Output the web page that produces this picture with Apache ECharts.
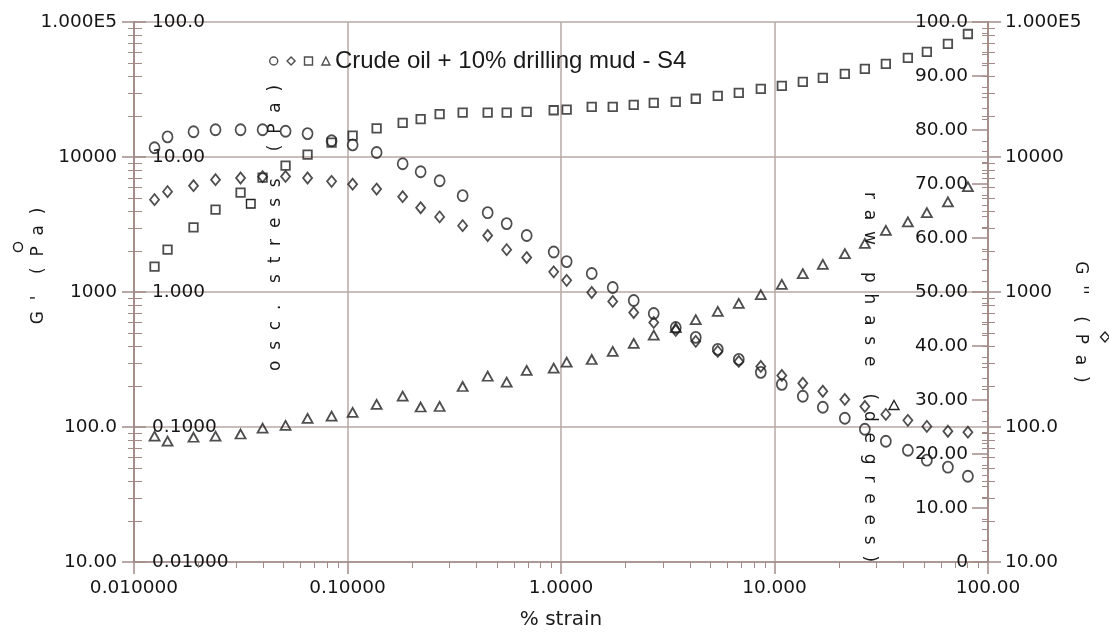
<!DOCTYPE html>
<html><head><meta charset="utf-8">
<script src="https://cdn.jsdelivr.net/npm/echarts@6/dist/echarts.min.js"></script>
<style>html,body{margin:0;padding:0;background:#fff}#c{width:1109px;height:635px}</style>
</head><body><div id="c"></div>
<script>
// ---- data ----
const strain = [0.01248,0.01436,0.01900,0.02409,0.03156,0.04002,0.05128,0.06501,0.08423,0.1057,0.1369,0.1813,0.2201,0.2701,0.3462,0.4535,0.5566,0.6907,0.9243,1.063,1.393,1.747,2.191,2.719,3.447,4.277,5.424,6.803,8.627,10.82,13.57,16.84,21.35,26.50,33.23,42.14,51.72,64.89,80.51];
const gPrime = [11700,14100,15400,15900,15900,15900,15500,14900,13200,12300,10800,8920,7780,6670,5170,3870,3210,2620,1980,1680,1370,1080,865,693,546,461,376,317,254,207,169,140,116,96.2,78.5,67.3,56.8,50.4,43.2];
const gDouble = [4830,5540,6130,6790,6990,7150,7180,6990,6600,6290,5790,5080,4210,3600,3100,2620,2060,1800,1410,1220,992,851,705,595,519,431,363,306,281,241,211,184,160,142,124,112,101,93.0,91.5];
const oscStress = [1.54,2.06,3.01,4.07,5.44,7.03,8.62,10.4,12.8,14.4,16.3,17.9,19.1,20.8,21.3,21.3,21.3,21.6,22.2,22.4,23.5,23.5,24.3,25.2,25.6,27.0,28.4,29.9,32.0,33.6,36.0,38.6,41.3,44.9,48.9,54.2,60.0,68.8,81.5];
const rawPhase = [23.3,22.4,23.1,23.3,23.7,24.8,25.3,26.6,27.0,27.7,29.2,30.7,28.7,28.8,32.5,34.4,33.3,35.5,35.9,37.0,37.5,39.0,40.5,42.0,43.4,44.9,46.4,47.9,49.5,51.4,53.4,55.1,57.1,59.0,61.4,63.0,64.7,66.7,69.5];

const xTickLabels = ['0.010000','0.10000','1.0000','10.000','100.00'];
const gTickLabels = ['10.00','100.0','1000','10000','1.000E5'];
const stressTickLabels = ['0.01000','0.1000','1.000','10.00','100.0'];
const phaseTickLabels = ['0','10.00','20.00','30.00','40.00','50.00','60.00','70.00','80.00','90.00','100.0'];
const legendText = 'Crude oil + 10% drilling mud - S4';
const seriesNames = ["G'", "G''", 'osc. stress', 'raw phase'];

// ---- styling ----
const markColor = '#222222';
const gridColor = '#b8a9a5';
const axisColor = '#a38c88';
const tickFont = 'DejaVu Sans';
const nameFont = '17px "DejaVu Sans"';

function pairs(arr){ return strain.map((s,i)=>[s, arr[i]]); }
function minorLog(lo, hi){ const out=[]; for(let k=lo;k<hi;k++){ for(let m=2;m<=9;m++){ out.push(m*Math.pow(10,k)); } } return out; }
function lg(v){ return Math.round(Math.log10(v)); }

const lblBase = {fontFamily: tickFont, fontSize: 18.5, color: '#151515', showMinLabel: true, showMaxLabel: true};
const lineSt = {color: axisColor, width: 1.5};

function tickSeries(yIdx, data, fn){
  return {
    type: 'custom', xAxisIndex: 0, yAxisIndex: yIdx, silent: true, clip: false, z: 1,
    data: data,
    renderItem: function(params, api){
      const p = api.coord([api.value(0), api.value(1)]);
      const s = fn(p);
      return {type: 'line', shape: s, style: {stroke: axisColor, lineWidth: 1}};
    }
  };
}

const markerStyle = {color: 'rgba(0,0,0,0)', borderColor: markColor, borderWidth: 1.8};

const option = {
  animation: false,
  backgroundColor: '#fff',
  grid: {left: 134, top: 22, width: 854, height: 541},
  legend: {
    left: 269, top: 49, padding: 0, itemWidth: 8, itemHeight: 8, itemGap: 8,
    selectedMode: false, data: seriesNames,
    itemStyle: {borderWidth: 1.4},
    formatter: n => n === 'raw phase' ? legendText : '',
    textStyle: {fontFamily: 'Liberation Sans', fontSize: 24, color: '#1a1a1a'}
  },
  xAxis: {
    type: 'log', logBase: 10, min: 0.01, max: 100,
    axisLine: {show: true, onZero: false, lineStyle: lineSt},
    axisTick: {show: true, length: 12, lineStyle: lineSt},
    axisLabel: Object.assign({}, lblBase, {margin: 17, formatter: v => xTickLabels[lg(v) + 2]}),
    splitLine: {show: true, lineStyle: {color: gridColor, width: 1.5}},
    name: '% strain', nameLocation: 'middle', nameGap: 48,
    nameTextStyle: {fontFamily: tickFont, fontSize: 20, color: '#1a1a1a'}
  },
  yAxis: [
    {type: 'log', logBase: 10, min: 10, max: 100000, position: 'left',
     axisLine: {show: true, lineStyle: lineSt},
     axisTick: {show: true, length: 12, lineStyle: lineSt},
     axisLabel: Object.assign({}, lblBase, {margin: 17, formatter: v => gTickLabels[lg(v) - 1]}),
     splitLine: {show: true, lineStyle: {color: gridColor, width: 1.5}}},
    {type: 'log', logBase: 10, min: 0.01, max: 100, position: 'left', offset: 0,
     axisLine: {show: true, lineStyle: lineSt},
     axisTick: {show: true, inside: true, length: 12, lineStyle: lineSt},
     axisLabel: Object.assign({}, lblBase, {inside: true, margin: 18, formatter: v => stressTickLabels[lg(v) + 2]}),
     splitLine: {show: false}},
    {type: 'value', min: 0, max: 100, interval: 10, position: 'right', offset: 0,
     axisLine: {show: true, lineStyle: lineSt},
     axisTick: {show: true, inside: true, length: 16, lineStyle: lineSt},
     minorTick: {show: true, splitNumber: 5, length: 6, lineStyle: {color: axisColor, width: 1}},
     axisLabel: Object.assign({}, lblBase, {inside: true, margin: 20, formatter: v => phaseTickLabels[Math.round(v / 10)]}),
     splitLine: {show: false}},
    {type: 'log', logBase: 10, min: 10, max: 100000, position: 'right', offset: 0,
     axisLine: {show: true, lineStyle: lineSt},
     axisTick: {show: true, length: 13, lineStyle: lineSt},
     axisLabel: Object.assign({}, lblBase, {margin: 17, formatter: v => gTickLabels[lg(v) - 1]}),
     splitLine: {show: false}}
  ],
  series: [
    {type: 'scatter', name: seriesNames[0], yAxisIndex: 0, data: pairs(gPrime), symbol: 'circle', symbolSize: [10, 11], itemStyle: markerStyle, silent: true, z: 3},
    {type: 'scatter', name: seriesNames[1], yAxisIndex: 3, data: pairs(gDouble), symbol: 'diamond', symbolSize: [9, 11], itemStyle: markerStyle, silent: true, z: 3},
    {type: 'scatter', name: seriesNames[2], yAxisIndex: 1, data: pairs(oscStress), symbol: 'rect', symbolSize: 8.5, itemStyle: markerStyle, silent: true, z: 3},
    {type: 'scatter', name: seriesNames[3], yAxisIndex: 2, data: pairs(rawPhase), symbol: 'triangle', symbolSize: [10, 9], itemStyle: markerStyle, silent: true, z: 3},
    tickSeries(0, minorLog(1, 5).map(v => [0.01, v]), p => {const y = Math.round(p[1]) + 0.5; return {x1: p[0] - 6, y1: y, x2: p[0] + 8, y2: y};}),
    tickSeries(3, minorLog(1, 5).map(v => [100, v]), p => {const y = Math.round(p[1]) + 0.5; return {x1: p[0] - 6, y1: y, x2: p[0] + 7, y2: y};}),
    tickSeries(0, minorLog(-2, 2).map(v => [v, 10]), p => {const x = Math.round(p[0]) + 0.5; return {x1: x, y1: p[1], x2: x, y2: p[1] + 6};})
  ],
  graphic: [
    {type: 'text', x: 39, y: 266, rotation: Math.PI / 2, silent: true,
     style: {text: "G  '    (  P  a  )", font: nameFont, fill: '#1a1a1a', align: 'center', verticalAlign: 'middle', textAlign: 'center', textVerticalAlign: 'middle'}},
    {type: 'circle', silent: true, shape: {cx: 18, cy: 247, r: 4.5}, style: {fill: 'none', stroke: markColor, lineWidth: 1.4}},
    {type: 'text', x: 276, y: 228, rotation: Math.PI / 2, silent: true,
     style: {text: 'o  s  c  .    s  t  r  e  s  s     (  P  a  )', font: nameFont, fill: '#1a1a1a', align: 'center', verticalAlign: 'middle', textAlign: 'center', textVerticalAlign: 'middle'}},
    {type: 'rect', silent: true, shape: {x: 246.5, y: 199.5, width: 8.5, height: 8.5}, style: {fill: 'none', stroke: markColor, lineWidth: 1.4}},
    {type: 'text', x: 869, y: 377, rotation: -Math.PI / 2, silent: true,
     style: {text: 'r  a  w     p  h  a  s  e     (  d  e  g  r  e  e  s  )', font: nameFont, fill: '#1a1a1a', align: 'center', verticalAlign: 'middle', textAlign: 'center', textVerticalAlign: 'middle'}},
    {type: 'polygon', silent: true, shape: {points: [[894, 400.5], [899, 409.5], [889, 409.5]]}, style: {fill: 'none', stroke: markColor, lineWidth: 1.4}},
    {type: 'text', x: 1080, y: 322, rotation: -Math.PI / 2, silent: true,
     style: {text: "G  ''    (  P  a  )", font: nameFont, fill: '#1a1a1a', align: 'center', verticalAlign: 'middle', textAlign: 'center', textVerticalAlign: 'middle'}},
    {type: 'polygon', silent: true, shape: {points: [[1105, 332], [1109.5, 337], [1105, 342], [1100.5, 337]]}, style: {fill: 'none', stroke: markColor, lineWidth: 1.4}}
  ]
};

const chart = echarts.init(document.getElementById('c'), null, {renderer: 'canvas'});
chart.setOption(option);
</script>
</body></html>
